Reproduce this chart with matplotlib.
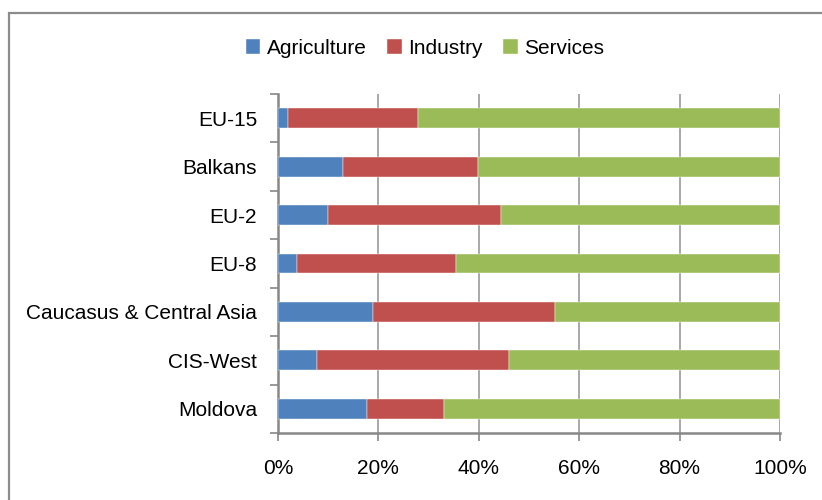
import numpy as np
import matplotlib

matplotlib.use("Agg")
import matplotlib.pyplot as plt
from matplotlib.patches import Rectangle

plt.rcParams["font.family"] = ["Liberation Sans", "DejaVu Sans"]

# ---- data (share of employment, %) ----
regions = ["EU-15", "Balkans", "EU-2", "EU-8",
           "Caucasus & Central Asia", "CIS-West", "Moldova"]
agriculture = [1.9, 12.9, 9.9, 3.8, 19.0, 7.8, 17.8]
industry = [25.9, 26.9, 34.5, 31.7, 36.2, 38.2, 15.3]
services = [72.2, 60.2, 55.6, 64.5, 44.8, 54.0, 66.9]

cols = {"Agriculture": "#4F81BD", "Industry": "#C0504D", "Services": "#9BBB59"}

fig = plt.figure(figsize=(8.22, 5), dpi=100)
ax = fig.add_axes([278 / 822, 1 - 433 / 500, 502 / 822, 339 / 500])

y = np.arange(len(regions))[::-1]
left = np.zeros(len(regions))
for name, vals in [("Agriculture", agriculture), ("Industry", industry),
                   ("Services", services)]:
    ax.barh(y, vals, left=left, height=0.41, color=cols[name], label=name,
            edgecolor="white", linewidth=0.3, zorder=3)
    left += np.array(vals)

ax.set_xlim(0, 100)
ax.set_ylim(-0.5, len(regions) - 0.5)
ax.set_xticks(range(0, 101, 20))
ax.set_xticklabels([f"{v}%" for v in range(0, 101, 20)])
ax.set_yticks(y)
ax.set_yticklabels(regions)
ax.set_yticks(np.arange(-0.5, len(regions), 1), minor=True)
ax.tick_params(axis="y", which="major", length=0, pad=15, labelsize=15)
ax.tick_params(axis="y", which="minor", length=5.5, width=1.2, color="#888888",
               direction="out")
ax.tick_params(axis="x", length=5.8, width=1.2, color="#888888", pad=13,
               labelsize=15)
ax.grid(axis="x", color="#999999", lw=1.2, zorder=0)
for s in ["top", "right"]:
    ax.spines[s].set_visible(False)
for s in ["left", "bottom"]:
    ax.spines[s].set_color("#888888")
    ax.spines[s].set_linewidth(1.8)

fig.legend(loc="center", bbox_to_anchor=(425 / 822, 1 - 48 / 500), ncol=3,
           frameon=False, fontsize=15, handlelength=0.7, handleheight=0.7,
           handletextpad=0.3, columnspacing=1.0)

# outer chart frame (only top/left edges fall inside the image)
fig.add_artist(Rectangle((9 / 822, -0.1), 2, 1 - 13 / 500 + 0.1,
                         transform=fig.transFigure, fill=False,
                         edgecolor="#8c8c8c", lw=1.6))

fig.savefig("out.png", dpi=100)
